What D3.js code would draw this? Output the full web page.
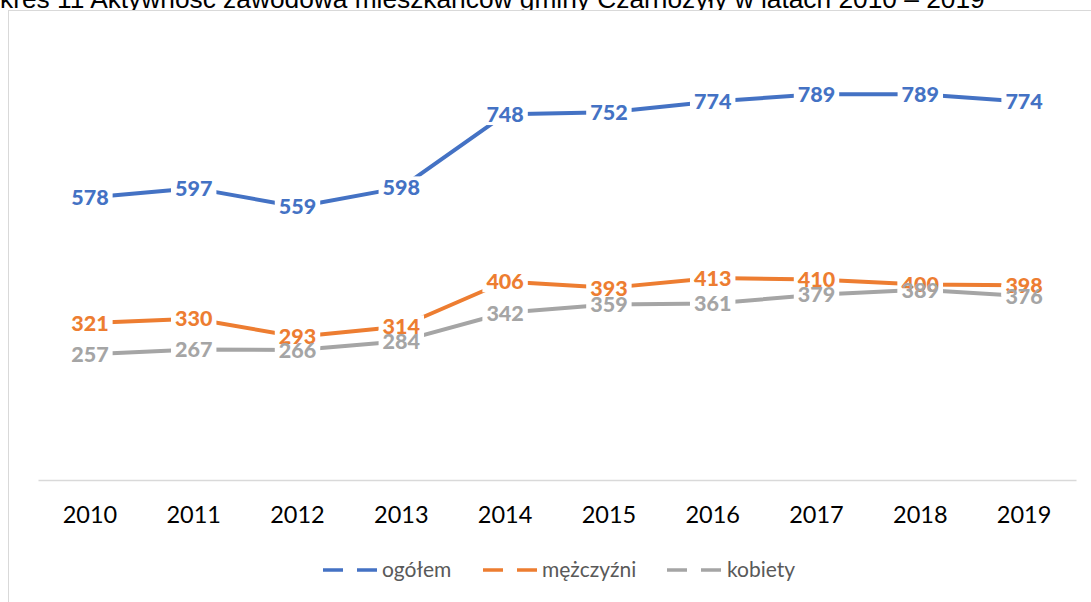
<!DOCTYPE html>
<html><head><meta charset="utf-8">
<script src="https://cdn.jsdelivr.net/npm/d3@7"></script>
<style>
html,body{margin:0;padding:0;background:#fff;overflow:hidden}
svg{display:block}
</style></head>
<body>
<svg id="chart" width="1091" height="602"></svg>
<script>
const years = ["2010","2011","2012","2013","2014","2015","2016","2017","2018","2019"];
const ogolem = [578, 597, 559, 598, 748, 752, 774, 789, 789, 774];
const mezczyzni = [321, 330, 293, 314, 406, 393, 413, 410, 400, 398];
const kobiety = [257, 267, 266, 284, 342, 359, 361, 379, 389, 376];
const seriesNames = ["ogółem", "mężczyźni", "kobiety"];
const seriesColors = ["#4472C4", "#ED7D31", "#A5A5A5"];
const titlePrefix = "Wy";
const titleText = "Wykres 11 Aktywność zawodowa mieszkańców gminy Czarnożyły w latach 2010 – 2019";

const series = [ogolem, mezczyzni, kobiety].map((v, i) => ({name: seriesNames[i], color: seriesColors[i], values: v}));

const svg = d3.select("#chart");

// title (cut at top and left, as in reference)
const title = svg.append("text")
  .attr("y", 8)
  .attr("text-anchor", "start")
  .style("font-family", "'Liberation Sans', Arial, sans-serif")
  .style("font-size", "24px")
  .attr("fill", "#000")
  .text(titleText);
{
  const probe = svg.append("text")
    .style("font-family", "'Liberation Sans', Arial, sans-serif")
    .style("font-size", "24px").text(titlePrefix);
  const pw = probe.node().getComputedTextLength();
  probe.remove();
  const fw = title.node().getComputedTextLength();
  const k = 985 / (fw - pw);
  title.style("font-size", (24 * k) + "px").attr("x", -pw * k);
}

// chart frame
svg.append("rect")
  .attr("x", 8.5).attr("y", 10.5)
  .attr("width", 1200).attr("height", 700)
  .attr("fill", "#fff").attr("stroke", "#D9D9D9").attr("stroke-width", 1);

const x = d3.scaleBand().domain(years).range([38, 1076]);
const y = d3.scaleLinear().domain([0, 900]).range([480, 40]);

// category axis
const xAxis = d3.axisBottom(x).tickSize(0).tickPadding(0);
const gx = svg.append("g").attr("transform", "translate(0,480)").call(xAxis);
gx.select(".domain").attr("stroke", "#D9D9D9").attr("stroke-width", 1.5);
gx.selectAll("text")
  .attr("y", 43).attr("dy", null)
  .style("font-family", "Lato, 'Open Sans', sans-serif")
  .style("font-size", "23.5px")
  .attr("fill", "#000");

const cx = d => x(d) + x.bandwidth() / 2;

const defs = svg.append("defs");
const mask = defs.append("mask").attr("id", "lblmask").attr("maskUnits", "userSpaceOnUse");
mask.append("rect").attr("x", 0).attr("y", 0).attr("width", 1091).attr("height", 602).attr("fill", "#fff");

const linesG = svg.append("g").attr("mask", "url(#lblmask)");
const labelsG = svg.append("g");

const line = d3.line().x((d, i) => cx(years[i])).y(d => y(d));

series.forEach(s => {
  linesG.append("path")
    .datum(s.values)
    .attr("d", line)
    .attr("fill", "none")
    .attr("stroke", s.color)
    .attr("stroke-width", 4)
    .attr("stroke-linejoin", "round");
});

series.forEach(s => {
  labelsG.selectAll(null)
    .data(s.values)
    .enter().append("text")
    .attr("x", (d, i) => cx(years[i]))
    .attr("y", d => y(d))
    .attr("dy", "0.36em")
    .attr("text-anchor", "middle")
    .style("font-family", "Lato, 'Open Sans', sans-serif")
    .style("font-weight", "900")
    .style("font-size", "21.5px")
    .attr("fill", s.color)
    .text(d => d)
    .each(function() {
      const b = this.getBBox();
      mask.append("rect")
        .attr("x", b.x - 4).attr("y", b.y + 2)
        .attr("width", b.width + 8).attr("height", b.height - 4)
        .attr("fill", "#000");
    });
});

// legend
const legendItems = [
  {lx: 323, tx: 382},
  {lx: 483, tx: 542},
  {lx: 667, tx: 727}
];
const lg = svg.append("g");
series.forEach((s, i) => {
  const it = legendItems[i];
  lg.append("line")
    .attr("x1", it.lx).attr("x2", it.lx + 54)
    .attr("y1", 570).attr("y2", 570)
    .attr("stroke", s.color).attr("stroke-width", 3.5)
    .attr("stroke-dasharray", "20 14");
  lg.append("text")
    .attr("x", it.tx).attr("y", 570).attr("dy", "0.35em")
    .style("font-family", "Lato, 'Open Sans', sans-serif")
    .style("font-size", "21px")
    .attr("fill", "#595959")
    .text(s.name);
});
</script>
</body></html>
